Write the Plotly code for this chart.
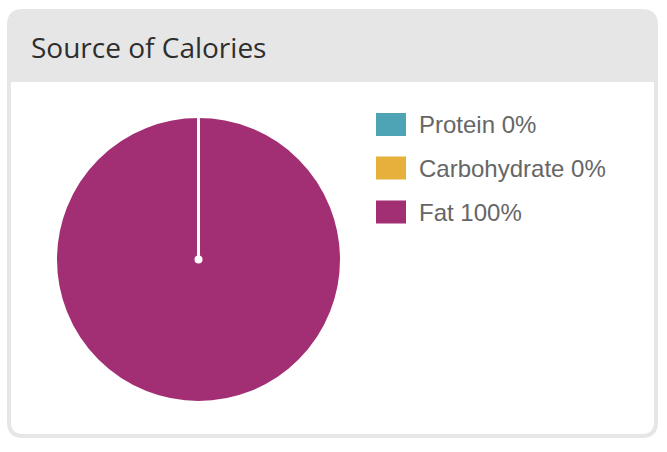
import plotly.graph_objects as go

W, H = 667, 452

title = "Source of Calories"
labels = ["Protein", "Carbohydrate", "Fat"]
percents = [0, 0, 100]
colors = ["#4ea3b5", "#e7b03b", "#a22e73"]

def px(x):
    return x / W

def py(y):
    return 1 - y / H

fig = go.Figure()

fig.add_trace(go.Pie(
    labels=labels,
    values=percents,
    sort=False,
    direction="clockwise",
    rotation=0,
    marker=dict(colors=colors, line=dict(color="white", width=2)),
    textinfo="none",
    hoverinfo="label+percent",
    showlegend=False,
    domain=dict(x=[px(56), px(341)], y=[py(402), py(117)]),
))

shapes = []
L, T, R, B, r = 9, 11, 656, 436, 14
def card_path(l, t, rr, b, rad, top_only=False):
    p = (f"M {px(l)},{py(t + rad)} Q {px(l)},{py(t)} {px(l + rad)},{py(t)} "
         f"L {px(rr - rad)},{py(t)} Q {px(rr)},{py(t)} {px(rr)},{py(t + rad)} ")
    if top_only:
        p += f"L {px(rr)},{py(b)} L {px(l)},{py(b)} Z"
    else:
        p += (f"L {px(rr)},{py(b - rad)} Q {px(rr)},{py(b)} {px(rr - rad)},{py(b)} "
              f"L {px(l + rad)},{py(b)} Q {px(l)},{py(b)} {px(l)},{py(b - rad)} Z")
    return p

shapes.append(dict(type="path", xref="paper", yref="paper",
                   path=card_path(L, T, R, 82, r, top_only=True),
                   fillcolor="#e6e6e6", line=dict(width=0), layer="below"))
shapes.append(dict(type="path", xref="paper", yref="paper",
                   path=card_path(L, T, R, B, r),
                   fillcolor="rgba(0,0,0,0)", line=dict(color="#e6e6e6", width=4),
                   layer="below"))

# slice border of the zero-value slices: radial line from centre to top
cx, cy = (56 + 341) / 2, (117 + 402) / 2
shapes.append(dict(type="line", xref="paper", yref="paper",
                   x0=px(cx), y0=py(cy), x1=px(cx), y1=py(117),
                   line=dict(color="white", width=3), layer="above"))
shapes.append(dict(type="circle", xref="paper", yref="paper",
                   x0=px(cx - 4), y0=py(cy + 4), x1=px(cx + 4), y1=py(cy - 4),
                   fillcolor="white", line=dict(width=0), layer="above"))

annotations = [dict(text=title, xref="paper", yref="paper", x=px(29), y=py(47),
                    xanchor="left", yanchor="middle", showarrow=False,
                    font=dict(family="Open Sans", size=28, color="#2e2e2e"))]

row_y = [124.5, 168, 212]
for lab, pct, col, yy in zip(labels, percents, colors, row_y):
    shapes.append(dict(type="rect", xref="paper", yref="paper",
                       x0=px(376), x1=px(406), y0=py(yy - 11.5), y1=py(yy + 11.5),
                       fillcolor=col, line=dict(width=0)))
    annotations.append(dict(text=f"{lab} {pct}%", xref="paper", yref="paper",
                            x=px(417), y=py(yy), xanchor="left", yanchor="middle",
                            showarrow=False,
                            font=dict(family="Liberation Sans, Arial", size=24,
                                      color="#666666")))

fig.update_layout(
    width=W, height=H,
    margin=dict(l=0, r=0, t=0, b=0),
    paper_bgcolor="white",
    plot_bgcolor="white",
    shapes=shapes,
    annotations=annotations,
    showlegend=False,
)

fig.write_html("out.html", config={"displayModeBar": False},
               post_script="document.body.style.margin='0';document.body.style.overflow='hidden';")
